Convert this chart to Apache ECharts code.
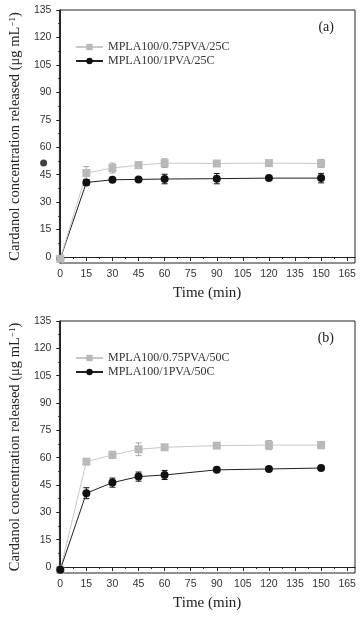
<!DOCTYPE html>
<html>
<head>
<meta charset="utf-8">
<script src="https://cdn.jsdelivr.net/npm/echarts@6/dist/echarts.min.js"></script>
<style>
  html, body { margin: 0; padding: 0; background: #fff; }
  #chart { width: 363px; height: 617px; }
</style>
</head>
<body>
<div id="chart"></div>
<script>
// time points (min)
const timeMin = [0, 15, 30, 45, 60, 90, 120, 150]

// (a) 25C
const a075 = [-1, 45.9, 48.6, 50.2, 51.3, 51.1, 51.3, 51.1]
const a075Err = [0, 3.5, 2.7, 1.8, 2.4, 0.6, 0.6, 2.2]
const a1 = [-1, 40.7, 42.2, 42.4, 42.6, 42.8, 43.1, 43.1]
const a1Err = [0, 1.6, 0.5, 0.5, 2.6, 2.8, 0.5, 2.6]
// stray marker left of the axis in panel (a)
const aStray = [[-9.6, 51.3]]

// (b) 50C
const b075 = [-1.5, 57.8, 61.5, 64.6, 65.7, 66.6, 66.9, 66.9]
const b075Err = [0, 1, 2, 3.5, 1, 1, 2.5, 2]
const b1 = [-1.5, 40.5, 46.3, 49.6, 50.5, 53.3, 53.8, 54.3]
const b1Err = [0, 3, 2.5, 2.5, 2.5, 0.6, 0.6, 0.6]

// tick labels
const xTicks = [0, 15, 30, 45, 60, 75, 90, 105, 120, 135, 150, 165]
const yTicks = [0, 15, 30, 45, 60, 75, 90, 105, 120, 135]

const xMinor = xTicks.map(v => v + 7.5)
const yMinor = yTicks.slice(0, -1).map(v => v + 7.5)

const serif = "'Liberation Serif', 'Times New Roman', serif"
const sans = "'Liberation Sans Narrow', 'Liberation Sans', Arial, sans-serif"
const GRAY = '#b9b9b9'
const BLACK = '#111'

const chart = echarts.init(document.getElementById('chart'))

const xAxes = (gi) => [
  {
    gridIndex: gi, type: 'value', min: -0.5, max: 169.5,
    name: 'Time (min)', nameLocation: 'middle', nameGap: 23,
    nameTextStyle: { fontFamily: serif, fontSize: 15, color: '#222' },
    axisLine: { show: true, lineStyle: { color: '#222', width: 1 } },
    axisTick: { show: true, length: 4, customValues: xTicks, lineStyle: { color: '#222' } },
    axisLabel: { customValues: xTicks, margin: 6, fontFamily: sans, fontSize: 10.5, color: '#333' },
    splitLine: { show: false }
  },
  {
    gridIndex: gi, type: 'value', min: -0.5, max: 169.5, position: 'bottom',
    axisLine: { show: false },
    axisTick: { show: true, length: 2, customValues: xMinor, lineStyle: { color: '#222' } },
    axisLabel: { show: false },
    splitLine: { show: false }
  }
]

const yAxes = (gi) => [
  {
    gridIndex: gi, type: 'value', min: -3.3, max: 135,
    name: '{t|Cardanol concentration released (μg mL}{s|−1}{t|)}',
    nameLocation: 'middle', nameGap: 33, nameRotate: 90,
    nameTextStyle: {
      rich: {
        t: { fontFamily: serif, fontSize: 14.5, color: '#222' },
        s: { fontFamily: serif, fontSize: 9, color: '#222', verticalAlign: 'top', padding: [0, 0, 6, 0] }
      }
    },
    axisLine: { show: true, lineStyle: { color: '#222', width: 1 } },
    axisTick: { show: true, length: 4, customValues: yTicks, lineStyle: { color: '#222' } },
    axisLabel: { customValues: yTicks, margin: 8, fontFamily: sans, fontSize: 10.5, color: '#333' },
    splitLine: { show: false }
  },
  {
    gridIndex: gi, type: 'value', min: -3.3, max: 135, position: 'left',
    axisLine: { show: false },
    axisTick: { show: true, length: 2, customValues: yMinor, lineStyle: { color: '#222' } },
    axisLabel: { show: false },
    splitLine: { show: false }
  }
]

const lineSeries = (name, ys, gi, color, lineColor, symbol, size) => ({
  name, type: 'line', xAxisIndex: gi * 2, yAxisIndex: gi * 2,
  data: timeMin.map((t, i) => [t, ys[i]]),
  symbol, symbolSize: size,
  itemStyle: { color },
  lineStyle: { color: lineColor, width: 1 },
  z: 3
})

const errSeries = (ys, errs, gi, color) => ({
  type: 'custom', xAxisIndex: gi * 2, yAxisIndex: gi * 2,
  data: timeMin.map((t, i) => [t, ys[i] - errs[i], ys[i] + errs[i]]).filter((d, i) => errs[i] > 0),
  renderItem: (params, api) => {
    const lo = api.coord([api.value(0), api.value(1)])
    const hi = api.coord([api.value(0), api.value(2)])
    const w = 3
    const style = { stroke: color, lineWidth: 1 }
    return {
      type: 'group',
      children: [
        { type: 'line', shape: { x1: lo[0], y1: lo[1], x2: hi[0], y2: hi[1] }, style },
        { type: 'line', shape: { x1: lo[0] - w, y1: lo[1], x2: lo[0] + w, y2: lo[1] }, style },
        { type: 'line', shape: { x1: hi[0] - w, y1: hi[1], x2: hi[0] + w, y2: hi[1] }, style }
      ]
    }
  },
  z: 2,
  silent: true
})

const legendStyle = (top, names) => ({
  data: names, left: 70, top, orient: 'vertical',
  itemWidth: 27, itemHeight: 8, itemGap: 2,
  textStyle: { fontFamily: serif, fontSize: 12, color: '#333' }
})

const option = {
  animation: false,
  backgroundColor: '#fff',
  title: [
    { text: '(a)', right: 29, top: 20, padding: 0, textStyle: { fontFamily: serif, fontSize: 14, fontWeight: 'normal', color: '#222' } },
    { text: '(b)', right: 29, top: 331, padding: 0, textStyle: { fontFamily: serif, fontSize: 14, fontWeight: 'normal', color: '#222' } }
  ],
  legend: [
    legendStyle(36, ['MPLA100/0.75PVA/25C', 'MPLA100/1PVA/25C']),
    legendStyle(347, ['MPLA100/0.75PVA/50C', 'MPLA100/1PVA/50C'])
  ],
  grid: [
    { left: 49, top: 10, right: 8, height: 253, show: true, borderColor: '#222', borderWidth: 1 },
    { left: 49, top: 321, right: 8, height: 252, show: true, borderColor: '#222', borderWidth: 1 }
  ],
  xAxis: [...xAxes(0), ...xAxes(1)],
  yAxis: [...yAxes(0), ...yAxes(1)],
  series: [
    errSeries(a075, a075Err, 0, '#a8a8a8'),
    errSeries(a1, a1Err, 0, BLACK),
    lineSeries('MPLA100/1PVA/25C', a1, 0, BLACK, '#222', 'circle', 8),
    lineSeries('MPLA100/0.75PVA/25C', a075, 0, GRAY, '#c8c8c8', 'rect', 8),
    {
      type: 'scatter', xAxisIndex: 0, yAxisIndex: 0, data: aStray,
      symbol: 'circle', symbolSize: 7, itemStyle: { color: BLACK }, clip: false, silent: true
    },
    errSeries(b075, b075Err, 1, '#a8a8a8'),
    errSeries(b1, b1Err, 1, BLACK),
    lineSeries('MPLA100/0.75PVA/50C', b075, 1, GRAY, '#c8c8c8', 'rect', 8),
    lineSeries('MPLA100/1PVA/50C', b1, 1, BLACK, '#222', 'circle', 8)
  ]
}

chart.setOption(option)
</script>
</body>
</html>
